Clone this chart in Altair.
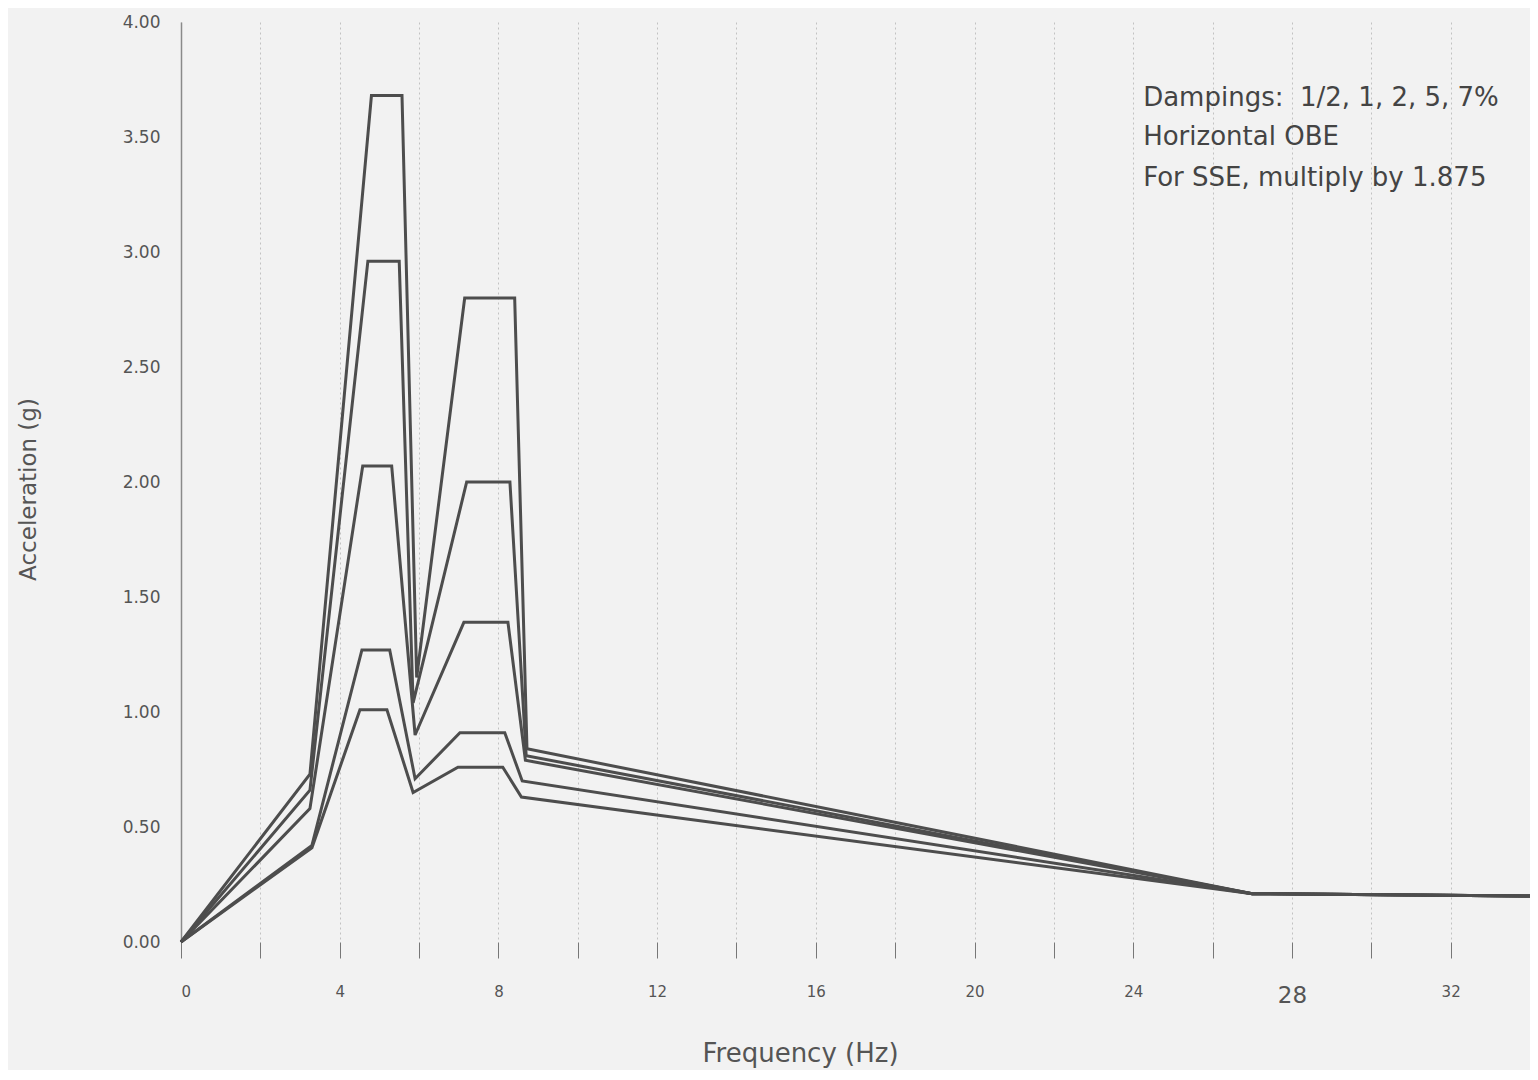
import altair as alt
import pandas as pd

# Damping curves (frequency Hz, acceleration g)
damping_labels = ["0.5%", "1%", "2%", "5%", "7%"]
freq_05 = [0, 3.25, 4.80, 5.57, 5.94, 7.15, 8.41, 8.72, 27.0, 34.0]
acc_05 = [0, 0.73, 3.68, 3.68, 1.15, 2.80, 2.80, 0.84, 0.21, 0.20]
freq_1 = [0, 3.25, 4.71, 5.50, 5.85, 7.20, 8.29, 8.70, 27.0, 34.0]
acc_1 = [0, 0.66, 2.96, 2.96, 1.04, 2.00, 2.00, 0.81, 0.21, 0.20]
freq_2 = [0, 3.25, 4.58, 5.31, 5.90, 7.13, 8.24, 8.68, 27.0, 34.0]
acc_2 = [0, 0.58, 2.07, 2.07, 0.90, 1.39, 1.39, 0.79, 0.21, 0.20]
freq_5 = [0, 3.30, 4.56, 5.26, 5.90, 7.03, 8.16, 8.60, 27.0, 34.0]
acc_5 = [0, 0.42, 1.27, 1.27, 0.71, 0.91, 0.91, 0.70, 0.21, 0.20]
freq_7 = [0, 3.30, 4.51, 5.19, 5.85, 6.98, 8.11, 8.58, 27.0, 34.0]
acc_7 = [0, 0.41, 1.01, 1.01, 0.65, 0.76, 0.76, 0.63, 0.21, 0.20]

x_ticks = [0, 2, 4, 6, 8, 10, 12, 14, 16, 18, 20, 22, 24, 26, 28, 30, 32, 34]
y_ticks = [0.0, 0.5, 1.0, 1.5, 2.0, 2.5, 3.0, 3.5, 4.0]

note_lines = ["Dampings:\u00a0 1/2, 1, 2, 5, 7%", "Horizontal OBE", "For SSE, multiply by 1.875"]
note_freq = [24.25, 24.25, 24.25]
note_acc = [3.67, 3.50, 3.32]

rows = []
for lab, fs, accs in zip(damping_labels,
                         [freq_05, freq_1, freq_2, freq_5, freq_7],
                         [acc_05, acc_1, acc_2, acc_5, acc_7]):
    for i, (f, a) in enumerate(zip(fs, accs)):
        rows.append({"damping": lab, "idx": i, "freq": f, "acc": a})
df = pd.DataFrame(rows)
notes = pd.DataFrame({"text": note_lines, "freq": note_freq, "acc": note_acc})

FONT = "DejaVu Sans"
x_scale = alt.Scale(domain=[0, 34], nice=False, zero=True)
y_scale = alt.Scale(domain=[0, 4], nice=False)

lines = alt.Chart(df).mark_line(color="#4d4d4d", strokeWidth=3, strokeJoin="miter").encode(
    x=alt.X("freq:Q", scale=x_scale,
            axis=alt.Axis(title="Frequency (Hz)", values=x_ticks,
                          labelExpr="datum.value % 4 == 0 ? datum.label : ''",
                          grid=True, gridColor="#c2c2c2", gridDash=[2, 3], gridWidth=1,
                          domain=False, ticks=True, tickSize=16, tickColor="#777777",
                          labelFont=FONT,
                          labelFontSize={"condition": {"test": "datum.value == 28", "value": 23},
                                         "value": 15},
                          labelColor="#555555", labelPadding=26,
                          titleFont=FONT, titleFontSize=26, titleFontWeight="normal",
                          titleColor="#555555", titleX=619, titleY=111, titleBaseline="middle",
                          titleAnchor="start", titleAlign="center")),
    y=alt.Y("acc:Q", scale=y_scale,
            axis=alt.Axis(title="Acceleration (g)", values=y_ticks, format=".2f",
                          grid=False, domain=True, domainColor="#8a8a8a", domainWidth=1.5,
                          ticks=False, labelFont=FONT, labelFontSize=17,
                          labelColor="#555555", labelPadding=21,
                          titleFont=FONT, titleFontSize=23, titleFontWeight="normal",
                          titleColor="#555555", titleX=-153, titleY=467, titleAngle=-90,
                          titleBaseline="middle", titleAlign="center")),
    detail="damping:N",
    order="idx:Q",
)

text = alt.Chart(notes).mark_text(align="left", baseline="middle", font=FONT,
                                  fontSize=26, color="#444444").encode(
    x=alt.X("freq:Q", scale=x_scale),
    y=alt.Y("acc:Q", scale=y_scale),
    text="text:N",
)

chart = alt.layer(lines, text).properties(
    width=1349, height=920,
    autosize=alt.AutoSizeParams(type="none"),
    padding={"left": 173, "top": 14, "right": 0, "bottom": 128},
    background="#f2f2f2",
).configure_view(stroke=None)

chart.save("out.html", embed_options={"renderer": "svg", "actions": False})
